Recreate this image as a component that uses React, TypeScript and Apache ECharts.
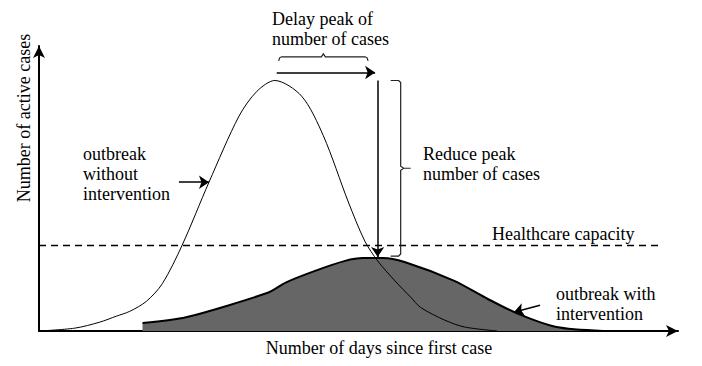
import React, { useEffect, useRef } from "react";
import * as echarts from "echarts";

// Outbreak without intervention: [days (0-100 scale), active cases (0-100 scale)]
const withoutIntervention: [number, number][] = [
  [0, 0], [5.6, 1.0], [9.5, 3.1], [12.1, 5.2], [14.2, 6.9], [16.8, 10.4],
  [19.3, 16.6], [22.4, 30.1], [26.6, 52.2], [31.3, 75.4], [34.1, 84.1],
  [36.9, 87.9], [41.1, 82.4], [44.5, 68.5], [48.4, 45.3], [51.0, 31.5],
  [53.0, 24.6], [55.7, 17.6], [58.2, 11.8], [59.7, 8.3], [63.5, 3.8],
  [66.6, 1.4], [71.7, 0],
];

// Outbreak with intervention (flattened curve)
const withIntervention: [number, number][] = [
  [16.2, 2.8], [23.0, 4.8], [35.9, 13.5], [38.6, 17.0], [43.2, 21.1],
  [47.9, 24.6], [50.7, 25.6], [53.8, 25.6], [57.2, 24.2], [65.0, 17.6],
  [70.1, 11.4], [74.8, 6.2], [81.0, 1.4], [88.3, 0],
];

const healthcareCapacity = 30;
const capacityLine: [number, number][] = [[0, healthcareCapacity], [97.4, healthcareCapacity]];

// Annotation arrows: [x1, y1, x2, y2]
const arrows: [number, number, number, number][] = [
  [37.2, 90.7, 52.6, 90.7], // delay peak
  [53.0, 87.9, 53.0, 26.0], // reduce peak
  [21.9, 52.2, 26.6, 52.2], // without intervention label
  [78.4, 9.0, 74.3, 6.6], // with intervention label
];

// Braces: [x1, y1, x2, y2, orientation (0 = horizontal, 1 = vertical)]
const braces: [number, number, number, number, number][] = [
  [37.5, 96.2, 51.5, 96.2, 0],
  [56.6, 87.9, 56.6, 26.3, 1],
];

const FONT = "Liberation Serif";

type TextItem = { text: string; x: number; y: number; align?: string };
const texts: TextItem[] = [
  { text: "Delay peak of", x: 272, y: 19 },
  { text: "number of cases", x: 272, y: 39 },
  { text: "Reduce peak", x: 423, y: 154 },
  { text: "number of cases", x: 423, y: 174 },
  { text: "Healthcare capacity", x: 492, y: 234 },
  { text: "outbreak with", x: 556, y: 294 },
  { text: "intervention", x: 556, y: 314 },
  { text: "outbreak", x: 83, y: 154 },
  { text: "without", x: 83, y: 174 },
  { text: "intervention", x: 83, y: 194 },
  { text: "Number of days since first case", x: 379, y: 348, align: "center" },
];

export default function App() {
  const ref = useRef<HTMLDivElement>(null);
  useEffect(() => {
    if (!ref.current) return;
    const chart = echarts.init(ref.current, null, { renderer: "svg" });
    const option: any = {
      animation: false,
      backgroundColor: "#ffffff",
      textStyle: { fontFamily: FONT },
      grid: { left: 39, right: 24, top: 46, bottom: 35 },
      xAxis: {
        type: "value",
        min: 0,
        max: 100,
        axisLine: { show: true, symbol: ["none", "arrow"], symbolSize: [9, 12], lineStyle: { color: "#000", width: 2 } },
        axisTick: { show: false },
        axisLabel: { show: false },
        splitLine: { show: false },
      },
      yAxis: {
        type: "value",
        min: 0,
        max: 100,
        axisLine: { show: true, symbol: ["none", "arrow"], symbolSize: [9, 12], lineStyle: { color: "#000", width: 2 } },
        axisTick: { show: false },
        axisLabel: { show: false },
        splitLine: { show: false },
      },
      series: [
        {
          type: "line",
          name: "with intervention",
          data: withIntervention,
          showSymbol: false,
          smooth: 0.25,
          lineStyle: { color: "#000", width: 2 },
          areaStyle: { color: "#666666", opacity: 1 },
          z: 2,
        },
        {
          type: "line",
          name: "without intervention",
          data: withoutIntervention,
          showSymbol: false,
          smooth: 0.3,
          lineStyle: { color: "#000", width: 1 },
          z: 3,
        },
        {
          type: "line",
          name: "capacity",
          data: capacityLine,
          showSymbol: false,
          lineStyle: { color: "#000", width: 1.5, type: [7, 5] },
          z: 4,
        },
        {
          type: "lines",
          coordinateSystem: "cartesian2d",
          data: arrows.map((a) => ({ coords: [[a[0], a[1]], [a[2], a[3]]] })),
          symbol: ["none", "arrow"],
          symbolSize: 10,
          lineStyle: { color: "#000", width: 1.5, opacity: 1 },
          silent: true,
          z: 5,
        },
        {
          type: "custom",
          data: braces,
          encode: { x: [0, 2], y: [1, 3] },
          silent: true,
          z: 5,
          renderItem: (params: any, api: any) => {
            const p1 = api.coord([api.value(0), api.value(1)]);
            const p2 = api.coord([api.value(2), api.value(3)]);
            const orient = api.value(4);
            let pts: number[][];
            if (orient === 0) {
              const y = p1[1];
              const mid = (p1[0] + p2[0]) / 2;
              pts = [
                [p1[0], y + 4], [p1[0] + 1, y + 1], [p1[0] + 3, y],
                [mid - 2, y], [mid, y - 3], [mid + 2, y],
                [p2[0] - 3, y], [p2[0] - 1, y + 1], [p2[0], y + 4],
              ];
            } else {
              const x = p1[0];
              const mid = (p1[1] + p2[1]) / 2;
              pts = [
                [x - 10, p1[1]], [x - 2, p1[1]], [x, p1[1] + 2],
                [x, mid - 2], [x + 3, mid], [x + 10, mid], [x + 3, mid], [x, mid + 2],
                [x, p2[1] - 2], [x - 2, p2[1]], [x - 10, p2[1]],
              ];
            }
            return {
              type: "polyline",
              shape: { points: pts },
              style: { stroke: "#222", lineWidth: 1.2, fill: "none" },
            };
          },
        },
      ],
      graphic: [
        {
          type: "text",
          x: 24,
          y: 118,
          rotation: Math.PI / 2,
          style: {
            text: "Number of active cases",
            fontFamily: FONT,
            fontSize: 18,
            fill: "#000",
            align: "center",
            verticalAlign: "middle",
          },
        },
        ...texts.map((t) => ({
          type: "text",
          x: t.x,
          y: t.y,
          style: {
            text: t.text,
            fontFamily: FONT,
            fontSize: 18,
            fill: "#000",
            align: t.align || "left",
            verticalAlign: "middle",
          },
        })),
      ],
    };
    chart.setOption(option);
    return () => chart.dispose();
  }, []);
  return <div ref={ref} style={{ width: 702, height: 366, position: "fixed", left: 0, top: 0 }} />;
}
